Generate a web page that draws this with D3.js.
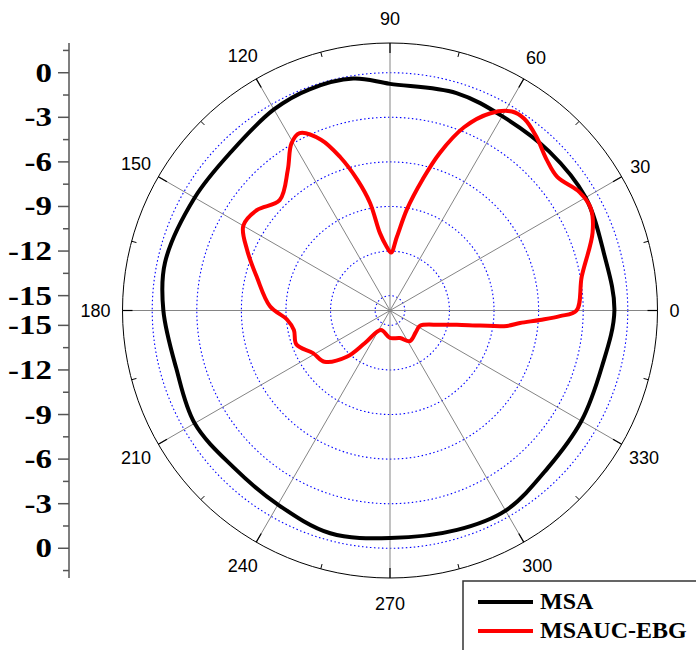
<!DOCTYPE html>
<html>
<head>
<meta charset="utf-8">
<script src="https://cdn.jsdelivr.net/npm/d3@7"></script>
<style>
  body { margin: 0; background: #fff; }
</style>
</head>
<body>
<div id="polarPattern"></div>
<script>
// MSA pattern (angle in degrees, gain in dB)
const msaAngle = [0, 15, 30, 45, 60, 73, 90, 99, 110, 120, 135, 150, 168, 180, 195, 210, 225, 240, 255, 270, 287, 300, 315, 330, 345];
const msaGain = [-0.9, -1.1, -0.8, -0.86, -0.9, -0.7, -0.75, -0.2, -0.16, -0.38, -0.89, -0.82, -0.52, -0.75, -1.1, -0.82, -1.09, -0.92, -0.48, -0.69, -0.56, -0.45, -1.0, -1.13, -1.25];

// MSAUC-EBG pattern
const ebgAngle = [0, 10, 21, 27, 32, 38.6, 44, 50, 55, 58.5, 63, 68, 72.5, 76, 80.5, 84.6, 89, 93, 97.4, 100.5, 104, 108, 112, 117, 120.5, 126, 135, 143, 150, 157, 166, 178, 185, 191.5, 200, 209, 218, 227, 232.4, 245, 270, 290, 303, 320, 333, 344, 348, 350.5, 352.5, 354.5, 356.4, 358.1];
const ebgGain = [-3.45, -2.9, -1.4, -0.84, -0.97, -1.6, -1.36, -0.7, -0.25, -0.3, -1.1, -2.7, -4.9, -6.9, -9.1, -11.0, -12.1, -11.7, -10.75, -8.64, -6.94, -5.14, -3.6, -2.6, -2.94, -4.3, -5.5, -4.78, -4.6, -5.55, -6.77, -7.92, -9.04, -9.4, -9.3, -10.08, -10.4, -11.74, -13.24, -14.55, -14.15, -14.03, -13.54, -13.73, -13.73, -12.5, -11.4, -9.86, -8.06, -7.21, -5.89, -4.56];

const radialTicks = [0, -3, -6, -9, -12, -15];
const radialMinor = [1.5, -1.5, -4.5, -7.5, -10.5, -13.5];
const angleTicks = [0, 30, 60, 90, 120, 150, 180, 210, 240, 270, 300, 330];
const angleMinor = [15, 45, 75, 105, 135, 165, 195, 225, 255, 285, 315, 345];
const seriesNames = ['MSA', 'MSAUC-EBG'];
const seriesColors = ['#000000', '#ff0000'];

const width = 696, height = 650,
    cx = 390, cy = 310.5, outerR = 267.5,
    axisX = 69;

const svg = d3.select('#polarPattern')
    .append('svg')
    .attr('width', width)
    .attr('height', height)
    .style('font-family', 'Liberation Sans, Arial, sans-serif');

const rScale = d3.scaleLinear().domain([-16, 2]).range([0, outerR]);
const rad = (deg) => deg * Math.PI / 180;

const plot = svg.append('g').attr('transform', `translate(${cx},${cy})`);

// dotted gain circles
plot.selectAll('circle.grid')
    .data(radialTicks)
    .join('circle')
    .attr('class', 'grid')
    .attr('r', (d) => rScale(d))
    .attr('fill', 'none')
    .attr('stroke', '#0000ff')
    .attr('stroke-width', 1.1)
    .attr('stroke-dasharray', '1.5,2.5');

// spokes every 30 degrees
plot.selectAll('line.spoke')
    .data(angleTicks)
    .join('line')
    .attr('class', 'spoke')
    .attr('x1', 0).attr('y1', 0)
    .attr('x2', (d) => outerR * Math.cos(rad(d)))
    .attr('y2', (d) => -outerR * Math.sin(rad(d)))
    .attr('stroke', '#858585')
    .attr('stroke-width', 1);

// patterns
const series = [
    msaAngle.map((a, i) => [a, msaGain[i]]),
    ebgAngle.map((a, i) => [a, ebgGain[i]]),
];
const radialLine = d3.lineRadial()
    .angle((d) => rad(90 - d[0]))
    .radius((d) => rScale(d[1]))
    .curve(d3.curveCatmullRomClosed.alpha(0.5));

plot.selectAll('path.pattern')
    .data(series)
    .join('path')
    .attr('class', 'pattern')
    .attr('d', radialLine)
    .attr('fill', 'none')
    .attr('stroke', (d, i) => seriesColors[i])
    .attr('stroke-width', 4)
    .attr('stroke-linejoin', 'round');

// outer circle and angular ticks
plot.append('circle')
    .attr('r', outerR)
    .attr('fill', 'none')
    .attr('stroke', '#000')
    .attr('stroke-width', 1);

plot.selectAll('line.majorTick')
    .data(angleTicks)
    .join('line')
    .attr('class', 'majorTick')
    .attr('x1', (d) => (outerR - 10) * Math.cos(rad(d)))
    .attr('y1', (d) => -(outerR - 10) * Math.sin(rad(d)))
    .attr('x2', (d) => outerR * Math.cos(rad(d)))
    .attr('y2', (d) => -outerR * Math.sin(rad(d)))
    .attr('stroke', '#000')
    .attr('stroke-width', 1.2);

plot.selectAll('line.minorTick')
    .data(angleMinor)
    .join('line')
    .attr('class', 'minorTick')
    .attr('x1', (d) => (outerR - 5) * Math.cos(rad(d)))
    .attr('y1', (d) => -(outerR - 5) * Math.sin(rad(d)))
    .attr('x2', (d) => outerR * Math.cos(rad(d)))
    .attr('y2', (d) => -outerR * Math.sin(rad(d)))
    .attr('stroke', '#000')
    .attr('stroke-width', 1);

// angle labels, pushed out by half their box
plot.selectAll('text.angleLabel')
    .data(angleTicks)
    .join('text')
    .attr('class', 'angleLabel')
    .attr('font-size', 18)
    .attr('text-anchor', 'middle')
    .attr('fill', '#000')
    .text((d) => d)
    .each(function (d) {
        const c = Math.cos(rad(d)), s = Math.sin(rad(d));
        const w = String(d).length * 10;
        const r = outerR + 12 + Math.abs(c) * w / 2 + Math.pow(s, 4) * 13;
        d3.select(this)
            .attr('x', r * c)
            .attr('y', -r * s + 6.5);
    });

// left gain axis, mirrored about the centre
const axis = svg.append('g');
axis.append('line')
    .attr('x1', axisX).attr('x2', axisX)
    .attr('y1', cy - outerR).attr('y2', cy + outerR)
    .attr('stroke', '#555')
    .attr('stroke-width', 1.5);

[-1, 1].forEach((side) => {
    axis.selectAll(null)
        .data(radialTicks)
        .join('line')
        .attr('x1', axisX - 11).attr('x2', axisX)
        .attr('y1', (d) => cy + side * rScale(d))
        .attr('y2', (d) => cy + side * rScale(d))
        .attr('stroke', '#555')
        .attr('stroke-width', 1.5);
    axis.selectAll(null)
        .data(radialMinor)
        .join('line')
        .attr('x1', axisX - 6).attr('x2', axisX)
        .attr('y1', (d) => cy + side * rScale(d))
        .attr('y2', (d) => cy + side * rScale(d))
        .attr('stroke', '#555')
        .attr('stroke-width', 1.5);
    // the labels are drawn a bit wider than the font's own shape
    axis.selectAll(null)
        .data(radialTicks)
        .join('text')
        .attr('transform', (d) => `translate(${axisX - 17},${cy + side * rScale(d) + 9}) scale(1.22,1)`)
        .attr('text-anchor', 'end')
        .attr('font-family', 'Liberation Serif, Times New Roman, serif')
        .attr('font-weight', 'bold')
        .attr('font-size', 27)
        .attr('fill', '#000')
        .text((d) => d);
});

// legend
const legend = svg.append('g').attr('transform', 'translate(463,581)');
legend.append('rect')
    .attr('width', 250).attr('height', 90)
    .attr('fill', '#fff')
    .attr('stroke', '#333')
    .attr('stroke-width', 1.5);
legend.selectAll('line')
    .data(seriesNames)
    .join('line')
    .attr('x1', 15).attr('x2', 70)
    .attr('y1', (d, i) => 21 + i * 29)
    .attr('y2', (d, i) => 21 + i * 29)
    .attr('stroke', (d, i) => seriesColors[i])
    .attr('stroke-width', 3.8);
legend.selectAll('text')
    .data(seriesNames)
    .join('text')
    .attr('x', 77)
    .attr('y', (d, i) => 28 + i * 29)
    .attr('font-family', 'Liberation Serif, Times New Roman, serif')
    .attr('font-weight', 'bold')
    .attr('font-size', 24)
    .attr('fill', '#000')
    .text((d) => d);
</script>
</body>
</html>
